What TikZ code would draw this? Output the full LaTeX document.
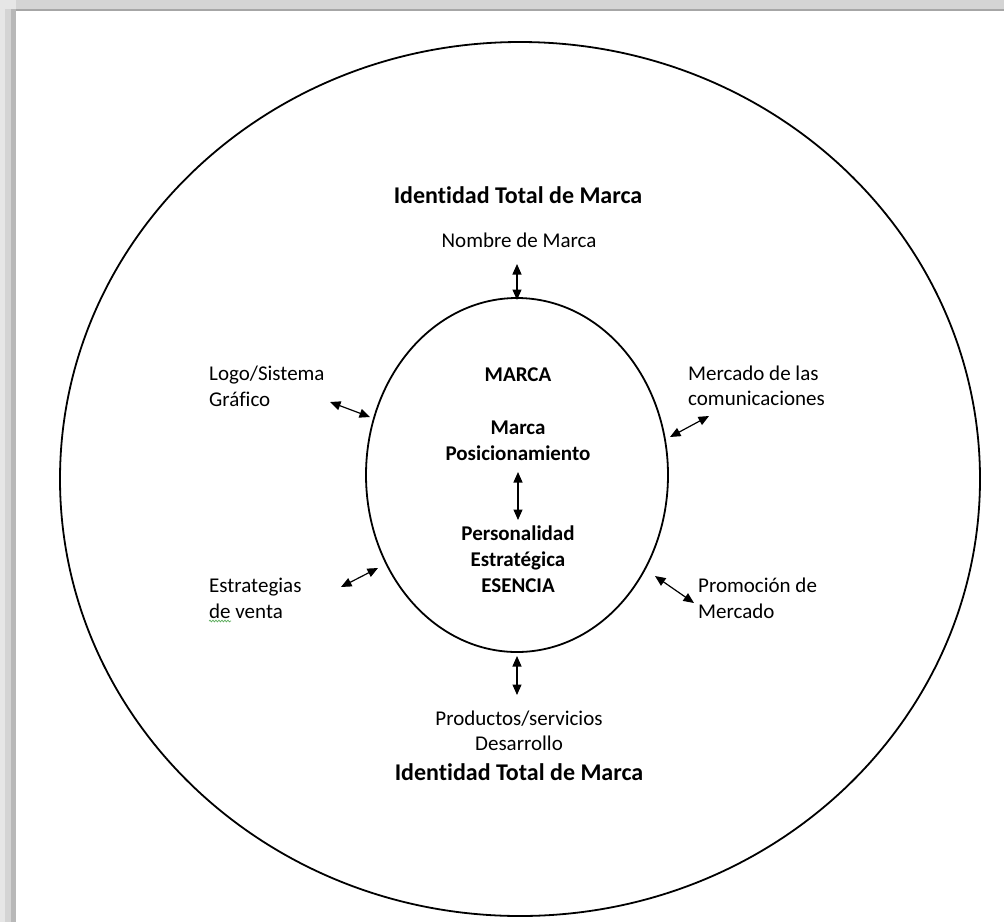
\documentclass[tikz,border=0pt]{standalone}
\usepackage{fontspec}
\setmainfont[Ligatures=NoCommon]{Carlito}
\usetikzlibrary{arrows.meta,decorations.pathmorphing}

\tikzset{
  ring/.style={draw=black, line width=1.8pt},
  link/.style={line width=1.2pt, {Triangle[length=10.5pt,width=9pt]}-{Triangle[length=10.5pt,width=9pt]}},
  label/.style={inner sep=0pt, align=left, anchor=west, font=\fontsize{21}{25.5}\selectfont},
  centrelabel/.style={inner sep=0pt, align=center, font=\fontsize{21}{25.5}\selectfont},
  core/.style={inner sep=0pt, align=center, font=\bfseries\fontsize{21}{26}\selectfont},
  title/.style={inner sep=0pt, align=center, font=\bfseries\fontsize{24}{26}\selectfont},
}
\definecolor{frameA}{HTML}{E6E6E6}
\definecolor{frameB}{HTML}{D4D4D4}
\definecolor{frameC}{HTML}{B8B8B8}
\definecolor{frameD}{HTML}{A6A6A6}
\definecolor{spell}{HTML}{5FAE5F}

\begin{document}
\begin{tikzpicture}[x=1pt,y=-1pt]
  \useasboundingbox (0,0) rectangle (1004,922);
  \fill[white] (0,0) rectangle (1004,922);

  % page frame shadow along the top and left edges
  \fill[frameB] (0,0) rectangle (1004,9);
  \fill[frameD] (16,8.5) rectangle (1004,10.5);
  \fill[frameA] (0,0) rectangle (5,922);
  \fill[frameB] (5,9) rectangle (11,922);
  \fill[frameC] (11,9) rectangle (16,922);
  \fill[frameA] (0,0) rectangle (16,9);

  % outer and inner rings
  \draw[ring] (520,479) ellipse [x radius=460, y radius=437];
  \draw[ring] (517,475) ellipse [x radius=151, y radius=177];

  % texts
  \node[title] (titletop) at (518,195) {Identidad Total de Marca};
  \node[centrelabel] (nombre) at (519,240) {Nombre de Marca};
  \node[label] (logo) at (209,386.5) {Logo/Sistema\\Gráfico};
  \node[label] (mercom) at (688,386) {Mercado de las\\comunicaciones};
  \node[label] (ventas) at (209,598.5) {Estrategias\\de venta};
  \node[label] (promo) at (698,598.5) {Promoción de\\Mercado};
  \node[centrelabel] (productos) at (519,731) {Productos/servicios\\Desarrollo};
  \node[title] (titlebottom) at (519,772) {Identidad Total de Marca};

  \node[core] (marca) at (518,375) {MARCA};
  \node[core] (posicion) at (518,440.5) {Marca\\Posicionamiento};
  \node[core] (esencia) at (518,559) {Personalidad\\Estratégica\\ESENCIA};

  % spelling underline below "de"
  \draw[spell, line width=0.7pt, decorate, decoration={snake, amplitude=0.9pt, segment length=3pt}]
    (209,621) -- (231,621);

  % connector ends
  \coordinate (nA) at (517,264);
  \coordinate (nB) at (517,300);
  \coordinate (lA) at (330,402);
  \coordinate (lB) at (370,417);
  \coordinate (mA) at (709,416);
  \coordinate (mB) at (670,437);
  \coordinate (cA) at (518,472);
  \coordinate (cB) at (518,520);
  \coordinate (vA) at (341,587);
  \coordinate (vB) at (378,568);
  \coordinate (pA) at (655,576);
  \coordinate (pB) at (694,603);
  \coordinate (dA) at (517,656);
  \coordinate (dB) at (517,695);

  \draw[link] (nA) -- (nB);
  \draw[link] (lA) -- (lB);
  \draw[link] (mA) -- (mB);
  \draw[link] (cA) -- (cB);
  \draw[link] (vA) -- (vB);
  \draw[link] (pA) -- (pB);
  \draw[link] (dA) -- (dB);
\end{tikzpicture}
\end{document}
